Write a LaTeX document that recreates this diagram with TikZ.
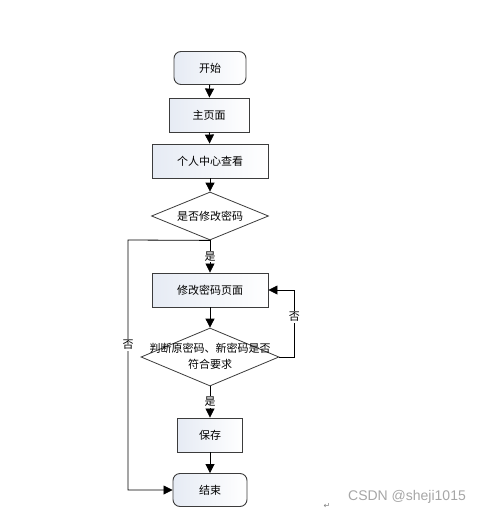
\documentclass[tikz,border=0pt]{standalone}
\usepackage{fontspec}
\setmainfont{Noto Sans CJK SC}
\newfontfamily\markfont{Liberation Sans}
\newfontfamily\symfont{DejaVu Sans}
\usetikzlibrary{arrows.meta, positioning, shapes.geometric}
\definecolor{boxfill}{HTML}{E6EBF4}
\definecolor{boxline}{HTML}{3C3C3C}
\definecolor{markgray}{HTML}{A6A6A6}

\begin{document}
\begin{tikzpicture}[x=1pt, y=-1pt,
  term/.style={draw=boxline, rounded corners=7pt, left color=boxfill, right color=white,
    minimum width=#1, minimum height=33pt, inner sep=0pt, line width=0.9pt,
    font=\fontsize{11}{13}\selectfont},
  proc/.style={draw=boxline, left color=boxfill, right color=white,
    minimum width=#1, minimum height=34pt, inner sep=0pt, line width=0.9pt,
    font=\fontsize{11}{13}\selectfont},
  dec/.style={diamond, aspect=2.4, draw=boxline, fill=white, inner sep=0pt, line width=0.8pt,
    font=\fontsize{11}{13}\selectfont},
  arr/.style={-{Triangle[length=9pt, width=9pt]}, line width=0.8pt, black},
  lbl/.style={fill=white, inner sep=1pt, font=\fontsize{11}{13}\selectfont}
]
  \useasboundingbox (0,0) rectangle (484,514);

  % Main column
  \node[term=72pt]  (start)  at (210,68)  {开始};
  \node[proc=80pt]  (home)   at (209,115) {主页面};
  \node[proc=116pt] (center) at (210,161) {个人中心查看};
  \node[dec, minimum width=117pt, minimum height=48pt] (ask) at (210,216) {是否修改密码};
  \node[proc=116pt] (page)   at (210,290) {修改密码页面};
  \node[dec, minimum width=138pt, minimum height=58pt] (check) at (210,357) {};
  \node[align=center, font=\fontsize{11}{16}\selectfont] (checktext) at (210,356)
    {判断原密码、新密码是否\\符合要求};
  \node[proc=65pt]  (save)   at (210,435) {保存};
  \node[term=74pt]  (finish) at (210,490) {结束};

  % Connectors
  \draw[arr] (start) -- (home);
  \draw[arr] (home) -- (center);
  \draw[arr] (center) -- (ask);
  \draw[arr] (ask) -- node[lbl] {是} (page);
  \draw[arr] (page) -- (check);
  \draw[arr] (check) -- node[lbl] {是} (save);
  \draw[arr] (save) -- (finish);

  % Loops
  \draw[arr] (check.east) -- ++(15,0) |- node[lbl, pos=0.3] {否} (page.east);
  \coordinate (bend) at (128,240);
  \draw[arr] (ask.south) -- (bend) |- node[lbl, pos=0.21] {否} (finish.west);

  % Watermark
  \node[font=\markfont\fontsize{14}{16}\selectfont, text=markgray] (mark) at (407,497) {CSDN @sheji1015};
  \node[font=\symfont\fontsize{8}{9}\selectfont, text=gray] (ret) at (327,506) {↵};
\end{tikzpicture}
\end{document}
